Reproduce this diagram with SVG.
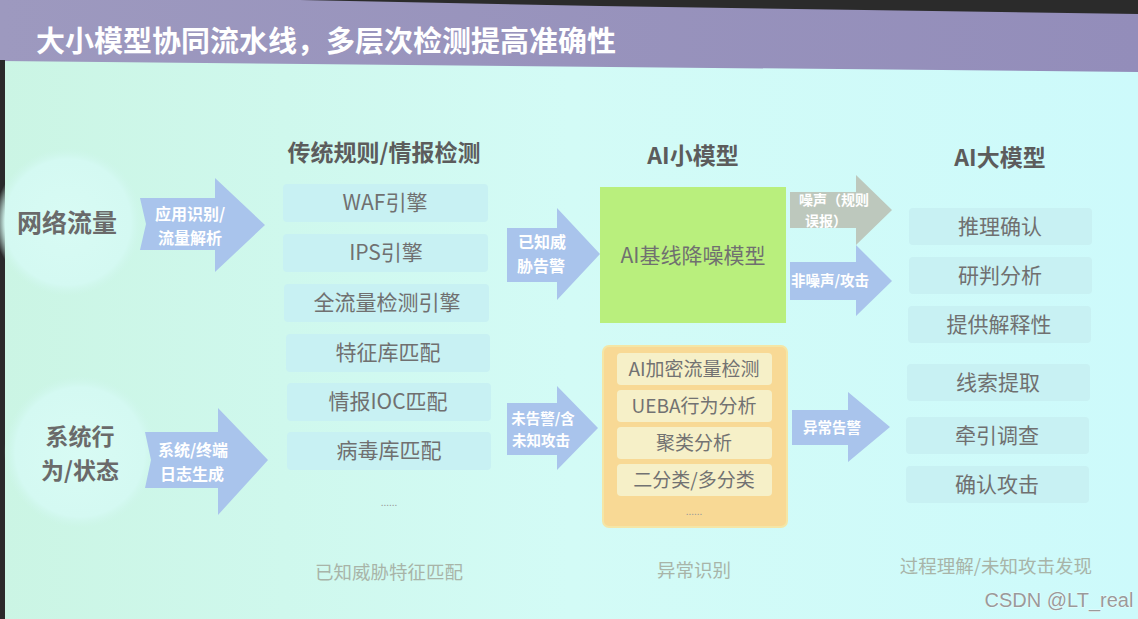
<svg xmlns="http://www.w3.org/2000/svg" width="1138" height="619" viewBox="0 0 1138 619">
<defs>
<linearGradient id="bg" x1="0" y1="0" x2="1" y2="0">
<stop offset="0" stop-color="#cbf5e4"/>
<stop offset="0.5" stop-color="#d3fbf6"/>
<stop offset="1" stop-color="#cdfafb"/>
</linearGradient>
<linearGradient id="top" x1="0" y1="0" x2="1" y2="0">
<stop offset="0" stop-color="#9d99bf"/>
<stop offset="1" stop-color="#938dba"/>
</linearGradient>
<radialGradient id="circ" cx="0.5" cy="0.5" r="0.5">
<stop offset="0" stop-color="#d8fbf4"/>
<stop offset="0.85" stop-color="#d4f9f2"/>
<stop offset="1" stop-color="#cff6ec" stop-opacity="0"/>
</radialGradient>
</defs>
<style>
text{font-family:"Noto Sans CJK SC","Noto Sans",sans-serif;text-anchor:middle}
.title{fill:#ffffff;font-size:29px;font-weight:bold;text-anchor:start}
.hdr{fill:#5c5c5c;font-size:23px;font-weight:bold}
.src{fill:#6a6a6a;font-size:25px;font-weight:bold}
.src2{fill:#6a6a6a;font-size:23px;font-weight:bold}
.box{fill:#c8f1f3}
.bt{fill:#707070;font-size:21px}
.at{fill:#ffffff;font-size:16px;font-weight:bold}
.at2{fill:#ffffff;font-size:14.5px;font-weight:bold}
.at3{fill:#ffffff;font-size:14px;font-weight:bold}
.foot{fill:#a8b4a8;font-size:18.5px}
.blue{fill:#a9c4ec}
.gray{fill:#bdc8bd}
.inner{fill:#f6f0c8}
.it{fill:#727272;font-size:19px}
.dots{fill:#999;font-size:10px}
</style>
<rect x="0" y="0" width="1138" height="619" fill="url(#bg)"/>
<polygon points="0,0 1138,0 1138,72 0,61" fill="url(#top)"/>
<polygon points="300,0 1138,0 1138,14 600,6" fill="#2b2b2b"/>
<rect x="0" y="60" width="5" height="559" fill="#2a2a2a"/>
<text class="title" x="36" y="52">大小模型协同流水线，多层次检测提高准确性</text>

<g id="src-network">
<circle cx="68" cy="222" r="74" fill="url(#circ)"/>
<text class="src" x="67" y="232">网络流量</text>
</g>
<g id="src-system">
<circle cx="80" cy="452" r="76" fill="url(#circ)"/>
<text class="src2"><tspan x="80" y="445">系统行</tspan><tspan x="80" y="479">为/状态</tspan></text>
</g>

<g id="connectors">
<g id="arrow-app">
<polygon class="blue" points="140,198 215,198 215,178 265,225 215,272 215,250 140,250 146,224"/>
<text class="at"><tspan x="190" y="220">应用识别/</tspan><tspan x="190" y="244">流量解析</tspan></text>
</g>
<g id="arrow-sys">
<polygon class="blue" points="145,432 218,432 218,408 268,460 218,515 218,488 145,488 151,460"/>
<text class="at"><tspan x="193" y="456">系统/终端</tspan><tspan x="192" y="480">日志生成</tspan></text>
</g>
<g id="arrow-known">
<polygon class="blue" points="507,228 557,228 557,208 600,254 557,300 557,282 507,282"/>
<text class="at"><tspan x="542" y="248">已知威</tspan><tspan x="541" y="272">胁告警</tspan></text>
</g>
<g id="arrow-unknown">
<polygon class="blue" points="507,403 557,403 557,386 598,428 557,470 557,455 507,455"/>
<text class="at2"><tspan x="543" y="424">未告警/含</tspan><tspan x="541" y="446">未知攻击</tspan></text>
</g>
<g id="arrow-noise">
<polygon class="gray" points="790,192 856,192 856,175 892,210 856,245 856,228 790,228"/>
<text class="at3"><tspan x="834" y="205">噪声（规则</tspan><tspan x="826" y="226">误报）</tspan></text>
</g>
<g id="arrow-attack">
<polygon class="blue" points="790,262 856,262 856,245 892,281 856,316 856,300 790,300"/>
<text class="at2" x="830" y="286">非噪声/攻击</text>
</g>
<g id="arrow-anomaly">
<polygon class="blue" points="792,410 848,410 848,392 890,427 848,462 848,445 792,445"/>
<text class="at2" x="832" y="433">异常告警</text>
</g>
</g>

<g id="col-rules">
<text class="hdr" x="384" y="161">传统规则/情报检测</text>
<g id="waf"><rect class="box" x="283" y="184" width="205" height="38" rx="4"/><text class="bt" x="385" y="210">WAF引擎</text></g>
<g id="ips"><rect class="box" x="283" y="234" width="205" height="38" rx="4"/><text class="bt" x="386" y="260">IPS引擎</text></g>
<g id="fullflow"><rect class="box" x="284" y="284" width="205" height="38" rx="4"/><text class="bt" x="387" y="310">全流量检测引擎</text></g>
<g id="sig"><rect class="box" x="286" y="334" width="204" height="38" rx="4"/><text class="bt" x="388" y="360">特征库匹配</text></g>
<g id="ioc"><rect class="box" x="287" y="383" width="204" height="38" rx="4"/><text class="bt" x="388" y="409">情报IOC匹配</text></g>
<g id="virus"><rect class="box" x="287" y="432" width="204" height="38" rx="4"/><text class="bt" x="389" y="458">病毒库匹配</text></g>
<text class="dots" x="389" y="506">......</text>
<text class="foot" x="389" y="579">已知威胁特征匹配</text>
</g>

<g id="col-small">
<text class="hdr" x="693" y="164">AI小模型</text>
<g id="baseline">
<rect x="600" y="187" width="186" height="136" fill="#b9ef7d"/>
<text class="bt" x="693" y="263">AI基线降噪模型</text>
</g>
<g id="anomaly-group">
<rect x="603" y="346" width="184" height="181" rx="6" fill="#f8d995" stroke="#f4e6a6" stroke-width="2"/>
<g id="enc"><rect class="inner" x="617" y="353" width="155" height="32" rx="4"/><text class="it" x="694" y="376">AI加密流量检测</text></g>
<g id="ueba"><rect class="inner" x="617" y="390" width="155" height="32" rx="4"/><text class="it" x="694" y="413">UEBA行为分析</text></g>
<g id="cluster"><rect class="inner" x="617" y="427" width="155" height="32" rx="4"/><text class="it" x="694" y="450">聚类分析</text></g>
<g id="classify"><rect class="inner" x="617" y="464" width="155" height="32" rx="4"/><text class="it" x="694" y="487">二分类/多分类</text></g>
<text class="dots" x="694" y="515">......</text>
</g>
<text class="foot" x="694" y="577">异常识别</text>
</g>

<g id="col-large">
<text class="hdr" x="1000" y="166">AI大模型</text>
<g id="infer"><rect class="box" x="909" y="208" width="183" height="37" rx="4"/><text class="bt" x="1000" y="234">推理确认</text></g>
<g id="judge"><rect class="box" x="909" y="257" width="183" height="37" rx="4"/><text class="bt" x="1000" y="283">研判分析</text></g>
<g id="explain"><rect class="box" x="908" y="306" width="183" height="37" rx="4"/><text class="bt" x="999" y="332">提供解释性</text></g>
<g id="clue"><rect class="box" x="907" y="364" width="183" height="37" rx="4"/><text class="bt" x="998" y="390">线索提取</text></g>
<g id="trace"><rect class="box" x="906" y="417" width="183" height="37" rx="4"/><text class="bt" x="997" y="443">牵引调查</text></g>
<g id="confirm"><rect class="box" x="906" y="466" width="183" height="37" rx="4"/><text class="bt" x="997" y="492">确认攻击</text></g>
<text class="foot" x="996" y="573">过程理解/未知攻击发现</text>
</g>

<text x="1059" y="607" style="font-family:'Liberation Sans',sans-serif;font-size:20px;fill:#9a9a9a;stroke:#ffffff;stroke-width:0.6;paint-order:stroke">CSDN @LT_real</text>
</svg>
